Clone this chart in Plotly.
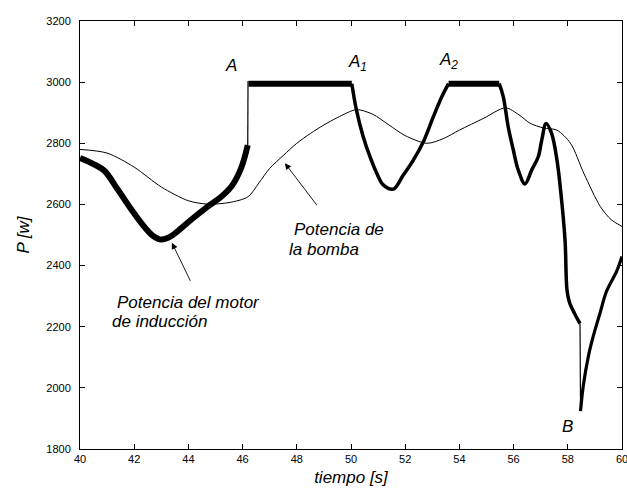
import plotly.graph_objects as go

# Potencia de la bomba (curva fina)
t_bomba = [40.0, 41.0, 42.0, 43.0, 44.0, 44.7, 45.5, 46.2, 46.6, 47.0, 47.5, 48.0,
           48.5, 49.0, 49.5, 50.2, 50.8, 51.4, 52.0, 52.8, 53.4, 54.0, 54.9, 55.7,
           56.2, 56.6, 57.1, 57.6, 58.1, 58.6, 59.2, 59.6, 60.0]
p_bomba = [2780, 2768, 2722, 2657, 2612, 2601, 2606, 2625, 2670, 2718, 2760, 2800,
           2832, 2860, 2884, 2910, 2895, 2860, 2825, 2800, 2815, 2843, 2882, 2916,
           2893, 2866, 2850, 2843, 2800, 2700, 2593, 2550, 2528]

# Potencia del motor de inducción (curva gruesa), por tramos
t_motor_1 = [40.0, 40.5, 40.9, 41.4, 41.9, 42.4, 42.7, 43.0, 43.3, 43.6, 44.1, 44.7,
             45.2, 45.6, 45.95, 46.19]
p_motor_1 = [2752, 2732, 2710, 2648, 2583, 2524, 2497, 2485, 2493, 2512, 2550, 2592,
             2624, 2660, 2720, 2794]

t_salto_1 = [46.19, 46.2]
p_salto_1 = [2794, 3004]

t_meseta_1 = [46.22, 50.03]
p_meseta_1 = [2995, 2995]

t_motor_2 = [50.03, 50.2, 50.45, 50.7, 50.95, 51.19, 51.56, 51.93, 52.3, 52.67, 53.04, 53.35, 53.6]
p_motor_2 = [2995, 2909, 2821, 2756, 2702, 2664, 2650, 2696, 2745, 2805, 2887, 2952, 2995]

t_meseta_2 = [53.6, 55.47]
p_meseta_2 = [2995, 2995]

t_motor_3 = [55.47, 55.62, 55.8, 55.99, 56.17, 56.42, 56.67, 56.91, 57.04, 57.2, 57.4,
             57.6, 57.77, 57.9, 57.97, 58.06, 58.25, 58.45]
p_motor_3 = [2995, 2952, 2854, 2778, 2713, 2667, 2713, 2756, 2811, 2865, 2833,
             2745, 2615, 2480, 2320, 2280, 2243, 2210]

t_salto_2 = [58.45, 58.47]
p_salto_2 = [2210, 1924]

t_motor_4 = [58.47, 58.57, 58.76, 58.94, 59.19, 59.43, 59.8, 60.0]
p_motor_4 = [1924, 2006, 2104, 2169, 2245, 2316, 2381, 2430]

x_ticks = [40, 42, 44, 46, 48, 50, 52, 54, 56, 58, 60]
y_ticks = [1800, 2000, 2200, 2400, 2600, 2800, 3000, 3200]

FONT = "Liberation Sans, Arial, Helvetica, sans-serif"

fig = go.Figure()

fig.add_trace(go.Scatter(x=t_bomba, y=p_bomba, mode="lines",
                         line=dict(color="black", width=1, shape="spline", smoothing=0.8),
                         showlegend=False, hoverinfo="skip"))

tramos = [
    (t_motor_1, p_motor_1, 6, "spline"),
    (t_salto_1, p_salto_1, 1.2, "linear"),
    (t_meseta_1, p_meseta_1, 6, "linear"),
    (t_motor_2, p_motor_2, 3.5, "spline"),
    (t_meseta_2, p_meseta_2, 6, "linear"),
    (t_motor_3, p_motor_3, 3.5, "spline"),
    (t_salto_2, p_salto_2, 1.2, "linear"),
    (t_motor_4, p_motor_4, 3.2, "spline"),
]
for tx, py, w, shape in tramos:
    line = dict(color="black", width=w, shape=shape)
    if shape == "spline":
        line["smoothing"] = 1.0
    fig.add_trace(go.Scatter(x=tx, y=py, mode="lines", line=line,
                             showlegend=False, hoverinfo="skip"))

italic = dict(family=FONT, size=17, color="black", style="italic")

def etiqueta(x, y, texto, xanchor="left"):
    fig.add_annotation(x=x, y=y, text=texto, showarrow=False, xanchor=xanchor,
                       yanchor="middle", font=italic)

etiqueta(45.57, 3053, "A", "center")
etiqueta(49.83, 3061, "A<sub>1</sub>", "left")
etiqueta(53.17, 3068, "A<sub>2</sub>", "left")
etiqueta(58.0, 1875, "B", "center")
etiqueta(47.82, 2517, "Potencia de")
etiqueta(47.64, 2452, "la bomba")
etiqueta(41.29, 2280, "Potencia del motor")
etiqueta(41.11, 2218, "de inducción")

# Flechas
fig.add_annotation(x=47.56, y=2735, ax=48.78, ay=2593, xref="x", yref="y",
                   axref="x", ayref="y", text="", showarrow=True,
                   arrowhead=2, arrowsize=1.4, arrowwidth=0.9, arrowcolor="black")
fig.add_annotation(x=43.39, y=2475, ax=44.1, ay=2345, xref="x", yref="y",
                   axref="x", ayref="y", text="", showarrow=True,
                   arrowhead=2, arrowsize=1.4, arrowwidth=0.9, arrowcolor="black")

axis_common = dict(showgrid=False, zeroline=False, showline=True, linecolor="black",
                   linewidth=1, mirror="ticks", ticks="inside", ticklen=5,
                   tickcolor="black", ticklabeloverflow="allow",
                   tickfont=dict(family=FONT, size=11, color="black"))

fig.update_xaxes(range=[40, 60], tickvals=x_ticks, ticktext=[str(v) for v in x_ticks],
                 title=dict(text="tiempo [s]", font=italic, standoff=6), **axis_common)
fig.update_yaxes(range=[1800, 3200], tickvals=y_ticks, ticktext=[str(v) for v in y_ticks],
                 title=dict(text="P [w]", font=italic, standoff=12),
                 ticklabelstandoff=6, **axis_common)

fig.update_layout(width=627, height=488, plot_bgcolor="white", paper_bgcolor="white",
                  margin=dict(l=80, r=5, t=21, b=39, autoexpand=False),
                  font=dict(family=FONT))

fig.write_html("out.html")
